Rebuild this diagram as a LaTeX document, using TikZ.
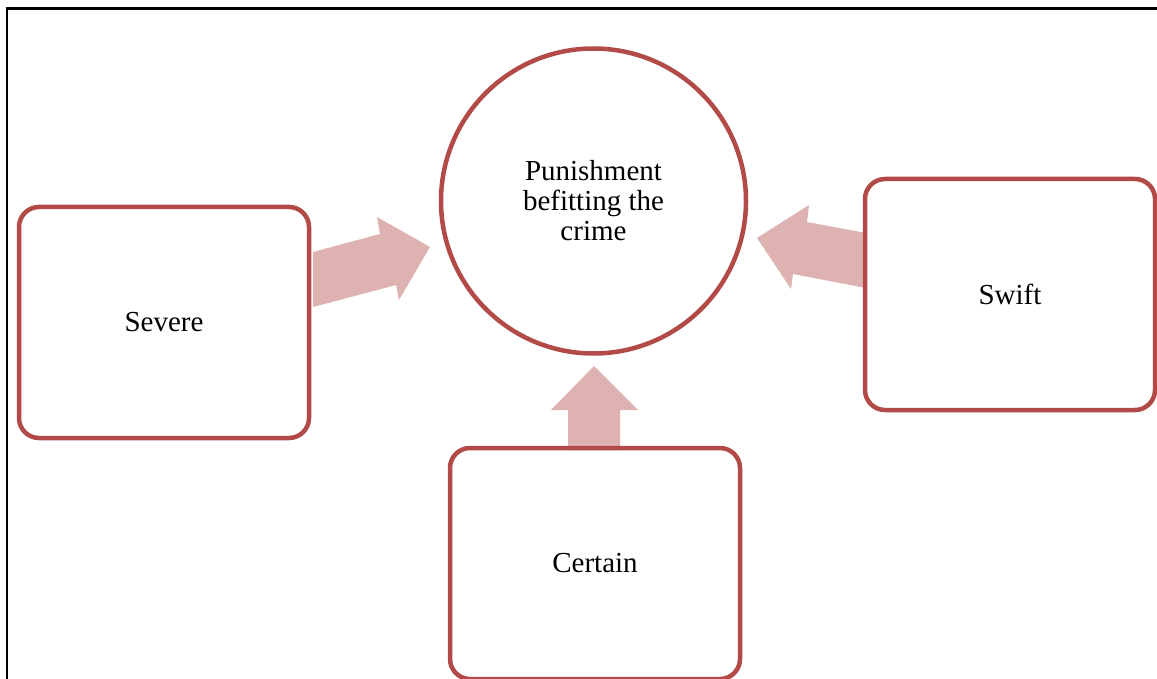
\documentclass[tikz,border=0pt]{standalone}
\usepackage{fontspec}
\setmainfont{Liberation Serif}
\definecolor{edgered}{RGB}{178,75,72}
\definecolor{arrowpink}{RGB}{221,178,177}
\begin{document}
\begin{tikzpicture}[x=1pt,y=-1pt,
  label text/.style={font=\fontsize{29}{30}\selectfont, align=center},
  factor/.style={label text, draw=edgered, line width=4.5pt, rounded corners=20pt,
    rectangle, minimum width=290pt, minimum height=231pt, inner sep=0pt, outer sep=0pt},
  goal/.style={label text, draw=edgered, line width=4.5pt, circle,
    minimum size=305pt, inner sep=0pt, outer sep=0pt},
  blockarrow/.style={fill=arrowpink, draw=none}]
\useasboundingbox (0,0) rectangle (1157,679);
\fill[white] (0,0) rectangle (1157,679);

% page frame (top and left rules)
\draw[line width=2.2pt] (7,682) -- (7,8.5) -- (1160,8.5);

% block arrows pointing into the centre circle
\fill[blockarrow] (313,252) -- (380,234) -- (377,217) -- (430,247)
  -- (399,300) -- (396,285) -- (313,307) -- cycle;
\fill[blockarrow] (757,238) -- (809,205) -- (807,222) -- (866,233)
  -- (866,288) -- (793,274) -- (791,289) -- cycle;
\fill[blockarrow] (594,366) -- (638,410) -- (620,410) -- (620,450)
  -- (568,450) -- (568,410) -- (551,410) -- cycle;

% centre idea and the three factors
\node[goal] (punish) at (593.5,201) {Punishment\\befitting the\\crime};
\node[factor] (severe) at (164,322.5) {Severe};
\node[factor] (swift) at (1010,294.5) {Swift};
\node[factor] (certain) at (595,563.5) {Certain};
\end{tikzpicture}
\end{document}
